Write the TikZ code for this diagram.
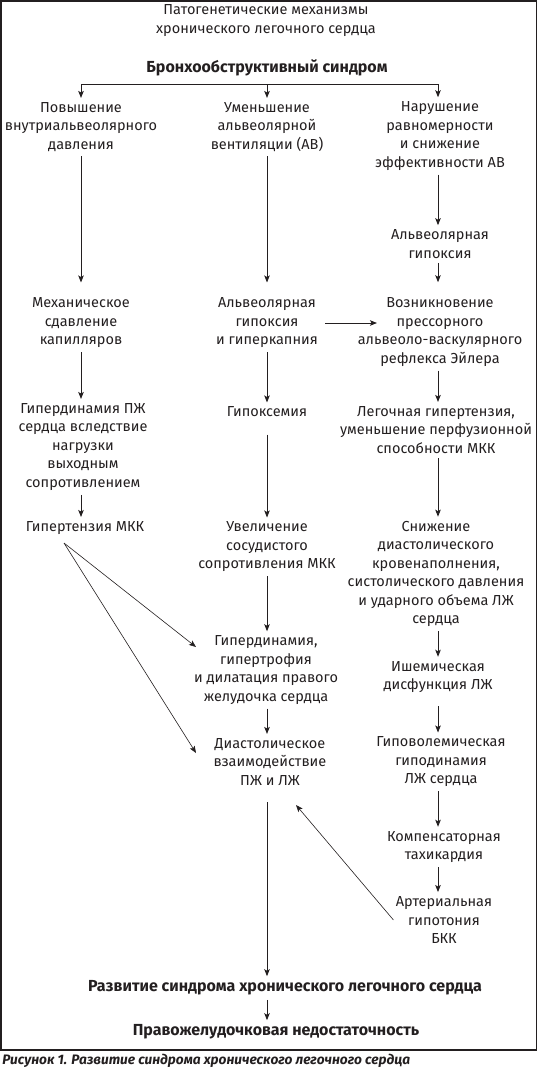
\documentclass[tikz,border=0pt]{standalone}
\usepackage{fontspec}
\setmainfont{Fira Sans}
\usetikzlibrary{arrows.meta}
\usetikzlibrary{positioning}
\definecolor{ink}{HTML}{231F20}

\begin{document}
\begin{tikzpicture}[x=1pt, y=-1pt, ink, line width=0.9pt,
    box/.style = {align=center, inner xsep=2pt, inner ysep=4pt, font=\fontsize{14.5}{18.5}\selectfont},
    head/.style = {align=center, inner xsep=2pt, inner ysep=4pt, font=\fontsize{16}{18.5}\selectfont\bfseries},
    arr/.style = {-{Stealth[length=7pt, width=5.5pt, inset=1.5pt]}},
    thin/.style = {line width=0.6pt}]
	\useasboundingbox (0,0) rectangle (538,1068);
	\draw[line width=1.5pt] (1,0.75) rectangle (536.5,1050);
	% title and the common cause
	\node[box] (title) at (266,20.5) {Патогенетические механизмы\\хронического легочного сердца};
	\node[head] (bs) at (267,68) {Бронхообструктивный синдром};
	\coordinate (bl) at (81,84);
	\coordinate (bm) at (267,84);
	\coordinate (br) at (438,84);
	% left column
	\node[box] (l1) at (81,127) {Повышение\\внутриальвеолярного\\давления};
	\node[box] (l2) at (81,323) {Механическое\\сдавление\\капилляров};
	\node[box] (l3) at (83,447) {Гипердинамия ПЖ\\сердца вследствие\\нагрузки\\выходным\\сопротивлением};
	\node[box] (l4) at (85,528) {Гипертензия МКК};
	% middle column
	\node[box] (m1) at (267,127) {Уменьшение\\альвеолярной\\вентиляции (АВ)};
	\node[box] (m2) at (267,323) {Альвеолярная\\гипоксия\\и гиперкапния};
	\node[box] (m3) at (267,412) {Гипоксемия};
	\node[box] (m4) at (267,547) {Увеличение\\сосудистого\\сопротивления МКК};
	\node[box] (m5) at (266,670) {Гипердинамия,\\гипертрофия\\и дилатация правого\\желудочка сердца};
	\node[box] (m6) at (270,762) {Диастолическое\\взаимодействие\\ПЖ и ЛЖ};
	% right column
	\node[box] (r1) at (440,136) {Нарушение\\равномерности\\и снижение\\эффективности АВ};
	\node[box] (r2) at (440,244) {Альвеолярная\\гипоксия};
	\node[box] (r3) at (440,332) {Возникновение\\прессорного\\альвеоло-васкулярного\\рефлекса Эйлера};
	\node[box] (r4) at (436,430) {Легочная гипертензия,\\уменьшение перфузионной\\способности МКК};
	\node[box] (r5) at (436,574) {Снижение\\диастолического\\кровенаполнения,\\систолического давления\\и ударного объема ЛЖ\\сердца};
	\node[box] (r6) at (438,677) {Ишемическая\\дисфункция ЛЖ};
	\node[box] (r7) at (441,762) {Гиповолемическая\\гиподинамия\\ЛЖ сердца};
	\node[box] (r8) at (444,847) {Компенсаторная\\тахикардия};
	\node[box] (r9) at (444,920) {Артериальная\\гипотония\\БКК};
	% outcome
	\node[head] (b1) at (285,988) {Развитие синдрома хронического легочного сердца};
	\node[head] (b2) at (276,1032) {Правожелудочковая недостаточность};
	\node[anchor=west, inner sep=0pt, font=\fontsize{13.7}{14}\selectfont\bfseries\itshape] (cap) at (2,1061) {Рисунок 1. Развитие синдрома хронического легочного сердца};
	% ends of the slanted arrows
	\coordinate (d0) at (64,543);
	\coordinate (d1) at (196,647);
	\coordinate (d2) at (196,753);
	\coordinate (d3) at (296,805);

	\draw (bl) -- (br);
	\draw[arr] (bl) -- (bl |- l1.north);
	\draw[arr] (bm) -- (bm |- m1.north);
	\draw[arr] (br) -- (br |- r1.north);

	\draw[arr, shorten >=11pt] (l1) -- (l1 |- l2.north);
	\draw[arr] (l2) -- (l2 |- l3.north);
	\draw[arr] (l3.south -| l2) -- (l2 |- l4.north);

	\draw[arr, shorten >=11pt] (m1) -- (m1 |- m2.north);
	\draw[arr] (m2) -- (m2 |- m3.north);
	\draw[arr, shorten <=13pt] (m3) -- (m3 |- m4.north);
	\draw[arr] (m4) -- (m4 |- m5.north);
	\draw[arr] (m5.south -| m4) -- (m4 |- m6.north);
	\draw[arr, shorten <=12pt] (m6.south -| m4) -- (m4 |- b1.north);
	\draw[arr] (b1.south -| m4) -- (m4 |- b2.north);

	\draw[arr] (r1.south -| br) -- (br |- r2.north);
	\draw[arr, shorten >=11pt] (r2.south -| br) -- (br |- r3.north);
	\draw[arr] (r3.south -| br) -- (br |- r4.north);
	\draw[arr] (r4.south -| br) -- (br |- r5.north);
	\draw[arr] (r5.south -| br) -- (br |- r6.north);
	\draw[arr, shorten <=9pt] (r6.south -| br) -- (br |- r7.north);
	\draw[arr] (r7.south -| br) -- (br |- r8.north);
	\draw[arr] (r8.south -| br) -- (br |- r9.north);

	\draw[arr, shorten <=5pt, shorten >=63pt] (m2.east) -- (m2.east -| r3);
	\draw[arr, thin] (d0) -- (d1);
	\draw[arr, thin] (d0) -- (d2);
	\draw[arr, thin] (r9.west) -- (d3);
\end{tikzpicture}
\end{document}
